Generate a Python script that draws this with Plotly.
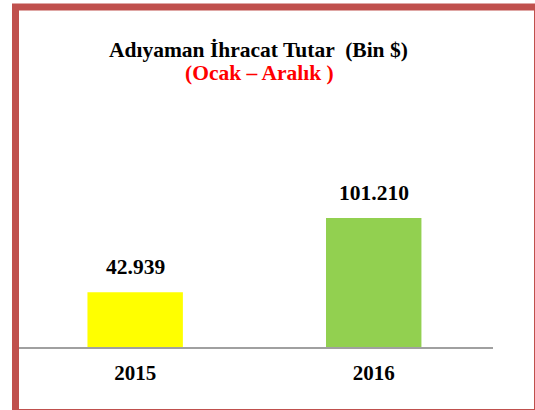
import plotly.graph_objects as go

years = ["2015", "2016"]
values = [42939, 101210]
bar_colors = ["#FFFF00", "#92D050"]
value_labels = ["42.939", "101.210"]
title_text = "Adıyaman İhracat Tutar  (Bin $)"
subtitle_text = "(Ocak – Aralık )"

W, H = 535, 410
L, R, T, B = 19, 42, 100, 63
PW, PH = W - L - R, H - T - B
FONT = "'Liberation Serif', 'Times New Roman', serif"

def px_x(p):
    return (p - L) / PW

def px_y(p):
    return (H - B - p) / PH

ymax = values[1] / 129 * PH

fig = go.Figure()
fig.add_trace(go.Bar(
    x=years, y=values, marker=dict(color=bar_colors, line=dict(width=0)),
    width=0.40, hoverinfo="skip",
))
for i, (v, lab) in enumerate(zip(values, value_labels)):
    fig.add_annotation(x=i, y=v, text="<b>" + lab + "</b>", showarrow=False,
                       xref="x", yref="y", yanchor="bottom", yshift=11,
                       font=dict(family=FONT, size=21.5, color="#000000"))

fig.add_annotation(x=px_x(258), y=px_y(50), xref="paper", yref="paper",
                   yanchor="middle",
                   text="<b>" + title_text + "</b>", showarrow=False,
                   font=dict(family=FONT, size=21.5, color="#000000"))
fig.add_annotation(x=px_x(259), y=px_y(73), xref="paper", yref="paper",
                   yanchor="middle",
                   text="<b>" + subtitle_text + "</b>", showarrow=False,
                   font=dict(family=FONT, size=21.5, color="#FF0000"))

fig.add_shape(type="rect", xref="paper", yref="paper",
              x0=px_x(15.5), x1=px_x(537.5), y0=px_y(7), y1=px_y(412.5),
              line=dict(color="#C0504D", width=7), fillcolor="rgba(0,0,0,0)",
              layer="above")

fig.update_layout(
    width=W, height=H,
    margin=dict(l=L, r=R, t=T, b=B, pad=0),
    paper_bgcolor="white", plot_bgcolor="white",
    showlegend=False,
    font=dict(family=FONT),
    xaxis=dict(range=[-0.487, 1.5], showline=True, linecolor="#A0A0A0", linewidth=2,
               showgrid=False, zeroline=False, ticks="", ticklabelstandoff=6,
               tickfont=dict(family=FONT, size=21, color="#000000"),
               tickvals=years, ticktext=["<b>" + y + "</b>" for y in years],
               type="category"),
    yaxis=dict(range=[0, ymax], visible=False, showgrid=False, zeroline=False),
)
fig.write_html("out.html", config={"displayModeBar": False},
               post_script="document.body.style.margin='0';document.body.style.overflow='hidden';")
